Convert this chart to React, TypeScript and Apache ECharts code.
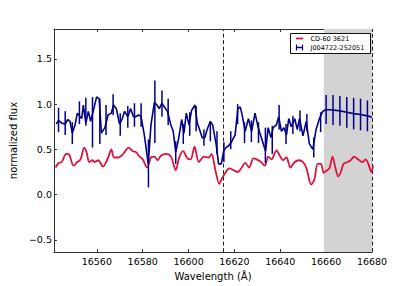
import React, { useEffect, useRef } from "react";
import * as echarts from "echarts";

const xTicks = [16560, 16580, 16600, 16620, 16640, 16660, 16680];
const yTicks = [-0.5, 0.0, 0.5, 1.0, 1.5];
const xMin = 16541.3;
const xMax = 16680;
const yMin = -0.635;
const yMax = 1.83;
const dashedLines = [16615, 16680];
const shadeRange = [16659, 16680];

const redName = "CD-60 3621";
const blueName = "J004722-252051";

const redWave = [16542, 16543.3, 16544.7, 16546.6, 16548.0, 16549.8, 16551.5, 16552.9, 16554.5, 16555.5, 16556.7, 16558.1, 16559.1, 16560.6, 16562.7, 16564.9, 16566.3, 16567.5, 16569.2, 16570.7, 16572.1, 16573.8, 16575.7, 16577.1, 16578.6, 16580.0, 16581.9, 16583.6, 16585.1, 16586.5, 16587.9, 16590.1, 16592.3, 16594.4, 16595.9, 16597.6, 16599.5, 16600.9, 16602.6, 16604.5, 16606.7, 16608.8, 16610.0, 16611.7, 16613.4, 16614.6, 16616.0, 16617.7, 16619.6, 16621.5, 16623.2, 16624.7, 16626.4, 16628.3, 16629.7, 16631.6, 16633.3, 16634.7, 16636.2, 16638.3, 16639.8, 16641.2, 16642.7, 16644.4, 16646.3, 16648.1, 16649.9, 16651.3, 16653.5, 16654.9, 16656.3, 16657.8, 16658.9, 16659.9, 16661.4, 16662.8, 16664.0, 16665.3, 16666.4, 16667.6, 16669.3, 16670.7, 16672.2, 16673.9, 16675.8, 16677.2, 16678.4, 16679.7, 16680.5];
const redFlux = [0.30, 0.35, 0.36, 0.45, 0.44, 0.32, 0.36, 0.39, 0.52, 0.47, 0.36, 0.38, 0.36, 0.38, 0.31, 0.41, 0.50, 0.41, 0.41, 0.43, 0.47, 0.52, 0.48, 0.47, 0.42, 0.39, 0.30, 0.41, 0.42, 0.38, 0.43, 0.45, 0.42, 0.27, 0.41, 0.48, 0.40, 0.39, 0.53, 0.36, 0.42, 0.41, 0.45, 0.27, 0.12, 0.18, 0.24, 0.29, 0.27, 0.25, 0.30, 0.35, 0.30, 0.40, 0.39, 0.36, 0.32, 0.42, 0.39, 0.49, 0.43, 0.38, 0.41, 0.30, 0.36, 0.38, 0.36, 0.30, 0.11, 0.17, 0.34, 0.34, 0.24, 0.26, 0.29, 0.42, 0.30, 0.20, 0.25, 0.34, 0.36, 0.38, 0.42, 0.39, 0.36, 0.39, 0.34, 0.25, 0.32];

const blueWave = [16542.3, 16543.3, 16544.7, 16546.2, 16547.3, 16548.3, 16549.3, 16550.5, 16551.5, 16552.4, 16553.4, 16554.1, 16555.2, 16556.3, 16557.3, 16558.4, 16559.9, 16561.0, 16562.0, 16563.5, 16564.9, 16566.3, 16567.3, 16568.5, 16569.9, 16571.1, 16572.1, 16573.5, 16574.7, 16576.0, 16576.8, 16578.3, 16579.3, 16580.7, 16582.4, 16583.6, 16585.1, 16586.2, 16587.2, 16588.4, 16589.4, 16590.8, 16592.3, 16593.3, 16594.4, 16595.6, 16597.0, 16598.0, 16599.0, 16600.2, 16601.3, 16602.8, 16603.8, 16604.8, 16605.9, 16607.1, 16608.1, 16609.5, 16610.5, 16612.0, 16613.1, 16614.3, 16615.3, 16616.3, 16617.5, 16618.9, 16620.3, 16621.5, 16622.5, 16623.2, 16624.7, 16626.1, 16627.5, 16629.0, 16630.1, 16631.1, 16632.6, 16633.6, 16634.7, 16635.9, 16636.9, 16638.3, 16639.3, 16640.5, 16641.6, 16642.7, 16643.7, 16644.8, 16646.3, 16647.4, 16648.4, 16649.9, 16651.3, 16652.7, 16654.2, 16655.6, 16657.1, 16658.5, 16660.0, 16663.0, 16666.0, 16669.0, 16672.0, 16675.0, 16678.0, 16680.0];
const blueFlux = [0.78, 0.82, 0.79, 0.78, 0.83, 0.81, 0.68, 0.77, 0.90, 0.87, 0.84, 0.99, 0.79, 0.92, 0.81, 0.92, 1.08, 1.06, 0.68, 0.74, 0.88, 0.90, 0.99, 0.95, 0.78, 0.84, 0.92, 0.86, 0.95, 0.86, 0.86, 0.88, 0.86, 0.66, 0.34, 0.77, 1.02, 0.99, 0.95, 1.01, 0.97, 0.92, 0.77, 0.70, 0.47, 0.61, 0.83, 0.68, 0.90, 0.77, 0.93, 0.99, 0.79, 0.72, 0.63, 0.63, 0.72, 0.81, 0.77, 0.56, 0.34, 0.34, 0.48, 0.52, 0.54, 0.59, 0.66, 0.95, 0.97, 0.90, 0.70, 0.84, 0.70, 0.90, 0.77, 0.68, 0.56, 0.48, 0.74, 0.63, 0.74, 0.77, 0.86, 0.70, 0.74, 0.66, 0.84, 0.75, 0.84, 0.72, 0.84, 0.65, 0.81, 0.56, 0.50, 0.72, 0.84, 0.92, 0.94, 0.935, 0.925, 0.91, 0.895, 0.885, 0.87, 0.855];

const errWave = [16543.3, 16546.2, 16549.3, 16552.4, 16555.2, 16558.1, 16561.3, 16564.0, 16567.1, 16570.2, 16573.5, 16576.4, 16579.3, 16582.5, 16585.3, 16588.4, 16591.1, 16594.4, 16597.7, 16600.5, 16603.3, 16606.7, 16609.5, 16612.4, 16615.4, 16618.4, 16621.4, 16624.4, 16627.4, 16630.5, 16633.5, 16636.5, 16639.5, 16642.5, 16645.5, 16648.6, 16651.6, 16654.6, 16657.6, 16660.0, 16663.0, 16666.0, 16669.0, 16672.0, 16675.0, 16678.0];
const errLow = [0.69, 0.66, 0.56, 0.78, 0.76, 0.52, 0.56, 0.66, 0.88, 0.65, 0.74, 0.75, 0.75, 0.08, 0.57, 0.86, 0.77, 0.34, 0.56, 0.65, 0.70, 0.54, 0.59, 0.45, 0.36, 0.50, 0.78, 0.57, 0.58, 0.57, 0.35, 0.45, 0.72, 0.56, 0.67, 0.70, 0.70, 0.41, 0.69, 0.78, 0.77, 0.76, 0.74, 0.72, 0.71, 0.70];
const errHigh = [0.96, 0.92, 0.80, 1.03, 1.07, 1.08, 1.06, 0.99, 1.11, 0.90, 0.98, 1.01, 1.01, 0.61, 1.26, 1.15, 1.06, 0.59, 0.78, 0.91, 0.98, 0.72, 0.80, 0.70, 0.58, 0.70, 1.00, 0.80, 0.82, 0.80, 0.74, 0.76, 0.99, 0.78, 0.87, 0.93, 0.89, 0.63, 0.91, 1.10, 1.10, 1.09, 1.08, 1.07, 1.06, 1.04];

const RED = "#DC143C";
const BLUE = "#00008B";
const FONT = "DejaVu Sans";
const AXIS = "#333";

export default function App() {
  const ref = useRef<HTMLDivElement>(null);
  useEffect(() => {
    if (!ref.current) return;
    const chart = echarts.init(ref.current, null, { renderer: "svg" });
    const redData = redWave.map((w, i) => [w, redFlux[i]]);
    const blueData = blueWave.map((w, i) => [w, blueFlux[i]]);
    const errData = errWave.map((w, i) => [w, errLow[i], errHigh[i]]);
    const tickStyle = { inside: true, length: 3, lineStyle: { color: AXIS, width: 1 } };
    chart.setOption({
      animation: false,
      backgroundColor: "#fff",
      textStyle: { fontFamily: FONT },
      grid: { left: 52, right: 43, top: 29, bottom: 29, containLabel: false },
      xAxis: [
        {
          type: "value",
          min: xMin,
          max: xMax,
          position: "bottom",
          name: "Wavelength (Å)",
          nameLocation: "middle",
          nameGap: 15,
          nameTextStyle: { fontFamily: FONT, fontSize: 10, color: "#000" },
          axisLine: { show: true, onZero: false, lineStyle: { color: AXIS, width: 1 } },
          axisTick: { ...tickStyle, customValues: xTicks },
          axisLabel: { customValues: xTicks, fontFamily: FONT, fontSize: 9.5, color: "#000", margin: 4, formatter: (v: number) => String(Math.round(v)) },
          splitLine: { show: false },
        },
        {
          type: "value",
          min: xMin,
          max: xMax,
          position: "top",
          axisLine: { show: true, onZero: false, lineStyle: { color: AXIS, width: 1 } },
          axisTick: { ...tickStyle, customValues: xTicks },
          axisLabel: { show: false },
          splitLine: { show: false },
        },
      ],
      yAxis: [
        {
          type: "value",
          min: yMin,
          max: yMax,
          position: "left",
          name: "normalized flux",
          nameLocation: "middle",
          nameGap: 21,
          nameRotate: 90,
          nameTextStyle: { fontFamily: FONT, fontSize: 10, color: "#000" },
          axisLine: { show: true, onZero: false, lineStyle: { color: AXIS, width: 1 } },
          axisTick: { ...tickStyle, customValues: yTicks },
          axisLabel: {
            customValues: yTicks,
            fontFamily: FONT,
            fontSize: 9.5,
            color: "#000",
            margin: 2,
            formatter: (v: number) => (v < 0 ? "\u2212" + Math.abs(v).toFixed(1) : v.toFixed(1)),
          },
          splitLine: { show: false },
        },
        {
          type: "value",
          min: yMin,
          max: yMax,
          position: "right",
          axisLine: { show: false, onZero: false },
          axisTick: { ...tickStyle, customValues: yTicks },
          axisLabel: { show: false },
          splitLine: { show: false },
        },
      ],
      series: [
        {
          name: redName,
          type: "line",
          data: redData,
          symbol: "none",
          smooth: 0.3,
          clip: true,
          z: 3,
          lineStyle: { color: RED, width: 1.8 },
          markArea: {
            silent: true,
            z: 1,
            itemStyle: { color: "#d3d3d3" },
            data: [[{ xAxis: shadeRange[0] }, { xAxis: shadeRange[1] }]],
          },
          markLine: {
            silent: true,
            symbol: "none",
            z: 2,
            label: { show: false },
            lineStyle: { type: [4, 2.5], color: "#222", width: 1 },
            data: dashedLines.map((x) => ({ xAxis: x })),
          },
        },
        {
          name: blueName,
          type: "line",
          data: blueData,
          symbol: "none",
          clip: true,
          z: 4,
          lineStyle: { color: BLUE, width: 1.6 },
        },
        {
          name: blueName + " err",
          type: "custom",
          data: errData,
          z: 5,
          encode: { x: 0, y: [1, 2] },
          renderItem: (params: any, api: any) => {
            const x = api.value(0);
            const p1 = api.coord([x, api.value(1)]);
            const p2 = api.coord([x, api.value(2)]);
            return {
              type: "line",
              shape: { x1: p1[0], y1: p1[1], x2: p2[0], y2: p2[1] },
              style: { stroke: BLUE, lineWidth: 1.5 },
            };
          },
        },
      ],
      graphic: {
        elements: [
          { type: "rect", z: 100, shape: { x: 290.5, y: 33.5, width: 80, height: 20 }, style: { fill: "#fff", stroke: "#111", lineWidth: 1 } },
          { type: "line", z: 101, shape: { x1: 296, y1: 38.5, x2: 303, y2: 38.5 }, style: { stroke: RED, lineWidth: 1.8 } },
          { type: "line", z: 101, shape: { x1: 296, y1: 47.5, x2: 303, y2: 47.5 }, style: { stroke: BLUE, lineWidth: 1.5 } },
          { type: "line", z: 101, shape: { x1: 296.5, y1: 44.5, x2: 296.5, y2: 50.5 }, style: { stroke: BLUE, lineWidth: 1.2 } },
          { type: "line", z: 101, shape: { x1: 302.5, y1: 44.5, x2: 302.5, y2: 50.5 }, style: { stroke: BLUE, lineWidth: 1.2 } },
          { type: "text", z: 101, x: 310.5, y: 38.5, style: { text: redName, fontFamily: FONT, fontSize: 6.5, fill: "#000", verticalAlign: "middle", align: "left" } },
          { type: "text", z: 101, x: 310.5, y: 47.8, style: { text: blueName, fontFamily: FONT, fontSize: 6.5, fill: "#000", verticalAlign: "middle", align: "left" } },
        ],
      },
    });
    return () => chart.dispose();
  }, []);
  return <div ref={ref} style={{ position: "fixed", left: 0, top: 0, width: 415, height: 286 }} />;
}
